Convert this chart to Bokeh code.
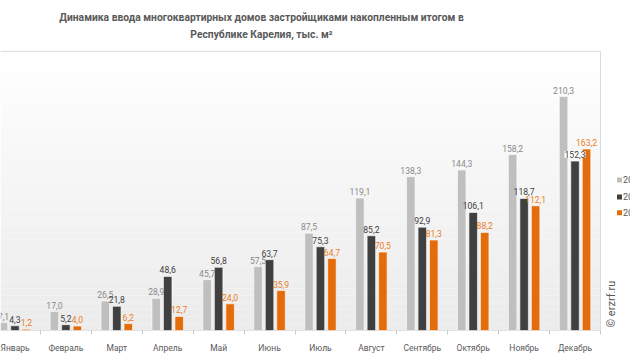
import numpy as np
from bokeh.plotting import figure
from bokeh.models import Range1d, FixedTicker, ColumnDataSource
from bokeh.core.properties import value
from bokeh.embed import file_html
from bokeh.resources import INLINE

months = ["Январь", "Февраль", "Март", "Апрель", "Май", "Июнь", "Июль",
          "Август", "Сентябрь", "Октябрь", "Ноябрь", "Декабрь"]
years = ["2022", "2023", "2024"]
vals_a = [7.1, 17.0, 26.5, 28.9, 45.7, 57.5, 87.5, 119.1, 138.3, 144.3, 158.2, 210.3]
vals_b = [4.3, 5.2, 21.8, 48.6, 56.8, 63.7, 75.3, 85.2, 92.9, 106.1, 118.7, 152.3]
vals_c = [1.2, 4.0, 6.2, 12.7, 24.0, 35.9, 64.7, 70.5, 81.3, 88.2, 112.1, 163.2]
title_lines = ["Динамика ввода многоквартирных домов застройщиками накопленным итогом в",
               "Республике Карелия, тыс. м²"]
watermark = "© erzrf.ru"

bar_colors = ["#bfbfbf", "#404040", "#e46c0a"]
lab_colors = ["#8a8a8a", "#404040", "#ec7d26"]

W, H = 630, 355
AL, AR, AT, AB = 0, 600, 51, 331        # plot-area pixel box
xa0, xa1 = -0.284, 11.5                 # data span of plot area
ya0, ya1 = 0.0, 251.0
sx = (AR - AL) / (xa1 - xa0)
sy = (AB - AT) / (ya1 - ya0)

def px_x(px):
    return xa0 + (px - AL) / sx

def px_y(py):
    return ya0 + (AB - py) / sy

p = figure(width=W, height=H, output_backend="svg", toolbar_location=None,
           x_range=Range1d(px_x(0), px_x(W)), y_range=Range1d(ya0, px_y(0)),
           min_border_left=0, min_border_right=0,
           min_border_top=0, min_border_bottom=H - AB)
p.outline_line_color = None
p.xgrid.visible = False
p.ygrid.visible = False
p.yaxis.visible = False
p.background_fill_color = "white"
p.border_fill_color = "white"

# background gradient of plot area (decoration)
n = 40
edges = np.linspace(ya0, ya1, n + 1)
shade = np.linspace(236, 255, n)
cols = ["#%02x%02x%02x" % (int(s), int(s), int(s)) for s in shade]
p.quad(left=xa0, right=xa1, bottom=edges[:-1], top=edges[1:], fill_color=cols,
       line_color=None)

# plot-area borders
p.segment(x0=[xa0, xa1], y0=[ya1, ya0], x1=[xa1, xa1], y1=[ya1, ya1],
          line_color="#dcdcdc", line_width=1)
p.segment(x0=[xa0], y0=[ya0], x1=[xa1], y1=[ya0], line_color="#c8c8c8", line_width=1)

idx = np.arange(len(months))
bw = 8.5 / 51
off = 11.5 / 51
series = [vals_a, vals_b, vals_c]
sources = []
for k, vals in enumerate(series):
    xs = idx + (k - 1) * off
    nxt = series[k + 1] if k + 1 < len(series) else [0] * len(vals)
    bg = ["white" if (k == 1 and n_ > v) else None for v, n_ in zip(vals, nxt)]
    src = ColumnDataSource(dict(x=xs, top=vals, bg=bg,
                                lab=[("%.1f" % v).replace(".", ",") for v in vals]))
    sources.append(src)
    p.vbar(x="x", top="top", width=bw, source=src, fill_color=bar_colors[k],
           line_color="white", line_width=0.6)

for k, src in enumerate(sources):
    p.text(x="x", y="top", text="lab", source=src, text_align="center",
           text_baseline="bottom", y_offset=-3, text_font=value("Roboto"),
           text_font_size="8.6px", text_color=lab_colors[k],
           background_fill_color="bg", padding=0)

ax = p.xaxis[0]
ax.ticker = FixedTicker(ticks=list(idx), minor_ticks=list(idx[:-1] + 0.5) + [-0.5, 11.5])
ax.major_label_overrides = {int(i): m for i, m in enumerate(months)}
ax.major_tick_line_color = None
ax.minor_tick_line_color = "#c8c8c8"
ax.minor_tick_out = 4
ax.minor_tick_in = 0
ax.axis_line_color = None
ax.major_label_standoff = 6
ax.major_label_text_font = "Roboto"
ax.major_label_text_font_size = "8.5px"
ax.major_label_text_color = "#595959"

# title
p.text(x=[px_x(261)] * 2, y=[px_y(17), px_y(34)], text=title_lines,
       text_align="center", text_baseline="middle", text_font=value("Roboto"),
       text_font_style="bold", text_font_size="10.3px", text_color="#595959")

# watermark
p.text(x=[px_x(611)], y=[px_y(328)], text=[watermark], angle=np.pi / 2,
       text_align="left", text_baseline="alphabetic",
       text_font=value("Roboto"), text_font_size="11px", text_color="#595959")

# legend
leg_y = [px_y(180), px_y(197), px_y(213)]
p.scatter(x=[px_x(619)] * 3, y=leg_y, marker="square", size=5,
          fill_color=bar_colors, line_color=None)
p.text(x=[px_x(622.5)] * 3, y=leg_y, text=years, text_align="left",
       text_baseline="middle", text_font=value("Roboto"), text_font_size="9px",
       text_color="#595959")

open("out.html", "w").write(file_html(p, INLINE))
